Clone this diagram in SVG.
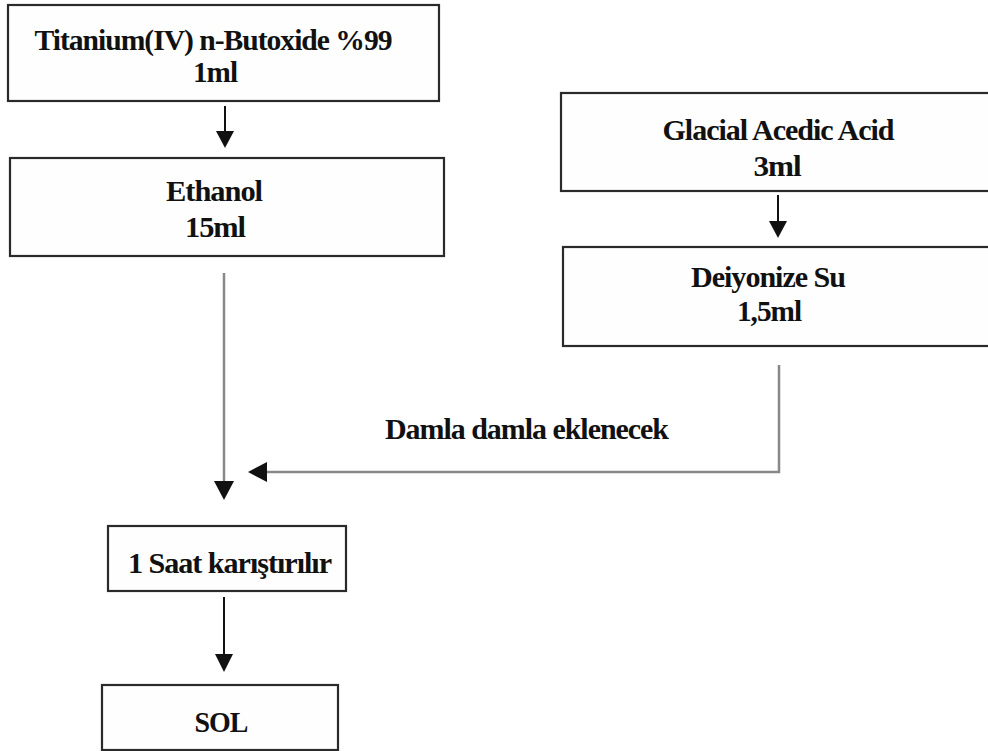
<svg xmlns="http://www.w3.org/2000/svg" width="988" height="751" viewBox="0 0 988 751">
<defs>
<style>
.box{fill:#fefefe;stroke:#2a2a2a;stroke-width:2.2}
.t{font-family:"Liberation Serif","Times New Roman",serif;font-weight:bold;font-size:29px;fill:#111;letter-spacing:-1px}
.c{fill:none;stroke:#111;stroke-width:2}
.g{fill:none;stroke:#888;stroke-width:2.5}
.h{fill:#111}
</style>
</defs>
<rect width="988" height="751" fill="#ffffff"/>
<g id="n1">
<rect class="box" x="8" y="5" width="431" height="96"/>
<text class="t" x="213" y="50" text-anchor="middle" textLength="357" lengthAdjust="spacingAndGlyphs">Titanium(IV) n-Butoxide %99</text>
<text class="t" x="215" y="82" text-anchor="middle" textLength="44" lengthAdjust="spacingAndGlyphs">1ml</text>
</g>
<g id="n2">
<rect class="box" x="10" y="158" width="434" height="98"/>
<text class="t" x="214" y="201" text-anchor="middle" textLength="96" lengthAdjust="spacingAndGlyphs">Ethanol</text>
<text class="t" x="215" y="237" text-anchor="middle" textLength="60" lengthAdjust="spacingAndGlyphs">15ml</text>
</g>
<g id="n3">
<rect class="box" x="561" y="93" width="440" height="98"/>
<text class="t" x="778" y="140" text-anchor="middle" textLength="231" lengthAdjust="spacingAndGlyphs">Glacial Acedic Acid</text>
<text class="t" x="777" y="176" text-anchor="middle" textLength="47" lengthAdjust="spacingAndGlyphs">3ml</text>
</g>
<g id="n4">
<rect class="box" x="563" y="247" width="440" height="99"/>
<text class="t" x="768" y="287" text-anchor="middle" textLength="154" lengthAdjust="spacingAndGlyphs">Deiyonize Su</text>
<text class="t" x="769" y="321" text-anchor="middle" textLength="64" lengthAdjust="spacingAndGlyphs">1,5ml</text>
</g>
<g id="n5">
<rect class="box" x="108" y="526" width="238" height="65"/>
<text class="t" x="128" y="573" textLength="203" lengthAdjust="spacingAndGlyphs">1  Saat karıştırılır</text>
</g>
<g id="n6">
<rect class="box" x="102" y="685" width="236" height="65"/>
<text class="t" x="221" y="732" text-anchor="middle" textLength="53" lengthAdjust="spacingAndGlyphs">SOL</text>
</g>
<g id="connectors">
<line class="c" x1="225" y1="106" x2="225" y2="132"/>
<polygon class="h" points="216,131 234,131 225,148"/>
<line class="c" x1="778" y1="195" x2="778" y2="222"/>
<polygon class="h" points="769,221 787,221 778,238"/>
<line class="g" x1="224" y1="273" x2="224" y2="482"/>
<polygon class="h" points="214,481 234,481 224,500"/>
<polyline class="g" points="779,365 779,472 266,472"/>
<polygon class="h" points="267,462 267,482 248,472"/>
<text class="t" x="385" y="439" textLength="283" lengthAdjust="spacingAndGlyphs">Damla damla eklenecek</text>
<line class="c" x1="224" y1="597" x2="224" y2="655"/>
<polygon class="h" points="215,654 233,654 224,672"/>
</g>
</svg>
